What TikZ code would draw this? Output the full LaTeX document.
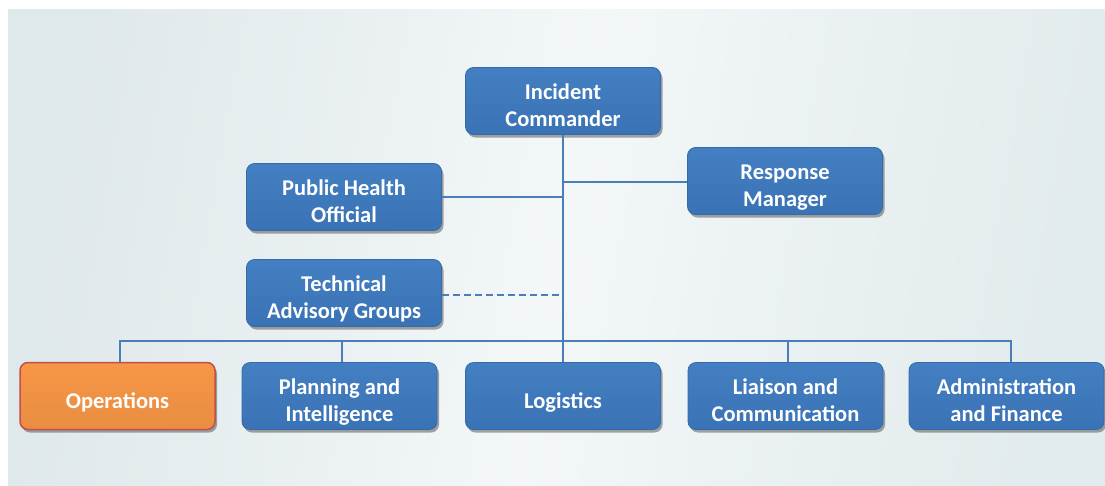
\documentclass[tikz,border=0pt]{standalone}
\usepackage{fontspec}
\setmainfont{Carlito}
\usetikzlibrary{shadows}
\definecolor{boxblue}{HTML}{3F7BBE}
\definecolor{boxtop}{HTML}{437FC2}
\definecolor{boxbot}{HTML}{3A73B5}
\definecolor{boxedge}{HTML}{3569A8}
\definecolor{linkblue}{HTML}{4A7EBB}
\definecolor{opsfill}{HTML}{F79646}
\definecolor{opsedge}{HTML}{C0504D}
\definecolor{bgl}{HTML}{DFE8EB}
\definecolor{bgm}{HTML}{F3F7F8}
\definecolor{bgr}{HTML}{E2EBED}
\tikzset{
  orgbox/.style={rectangle, rounded corners=8pt, minimum width=195pt, minimum height=67pt,
    top color=boxtop, bottom color=boxbot, draw=boxedge, line width=0.8pt,
    text=white, font=\fontsize{22.5}{27}\selectfont\bfseries, align=center,
    drop shadow={shadow xshift=2pt, shadow yshift=-3pt, opacity=0.5, fill=black!70}},
  opsbox/.style={orgbox, top color=opsfill, bottom color=opsfill!94!black, draw=opsedge, line width=1.5pt},
  link/.style={draw=linkblue, line width=2.4pt},
  dlink/.style={link, dash pattern=on 7pt off 4pt},
}
\newcommand{\lowered}[1]{\raisebox{-12pt}[0pt][0pt]{\begin{tabular}{@{}c@{}}#1\end{tabular}}}
\begin{document}
\begin{tikzpicture}[x=1pt,y=-1pt]
\useasboundingbox (0,0) rectangle (1105,485);
\shade[left color=bgl, right color=bgr, middle color=bgm, shading angle=80] (8,9) rectangle (1105,485);

\node[orgbox] (ic)  at (563,101) {\lowered{Incident\\Commander}};
\node[orgbox] (pho) at (344,197) {\lowered{Public Health\\Official}};
\node[orgbox] (rm)  at (785,181) {\lowered{Response\\Manager}};
\node[orgbox] (tag) at (344,293) {\lowered{Technical\\Advisory Groups}};
\node[opsbox] (ops) at (117.5,396) {\lowered{Operations}};
\node[orgbox] (pi)  at (339.5,396) {\lowered{Planning and\\Intelligence}};
\node[orgbox] (log) at (563,396) {\lowered{Logistics}};
\node[orgbox] (lc)  at (785.5,396) {\lowered{Liaison and\\Communication}};
\node[orgbox] (af)  at (1006.5,396) {\lowered{Administration\\and Finance}};

\coordinate (busl) at (120,341);
\coordinate (busr) at (1011,341);
\coordinate (jph) at (563,197);
\coordinate (jrm) at (563,182);
\coordinate (jtag) at (563,295);

\draw[link] (ic.south) -- (log.north);
\draw[link] (pho.east) -- (jph);
\draw[link] (rm.west |- jrm) -- (jrm);
\draw[dlink] (tag.east |- jtag) -- (jtag);
\draw[link] (ops.north -| busl) -- (busl) -- (busr) -- (af.north -| busr);
\draw[link] (pi.north -| 342,0) -- (342,341);
\draw[link] (lc.north -| 788,0) -- (788,341);
\end{tikzpicture}
\end{document}
